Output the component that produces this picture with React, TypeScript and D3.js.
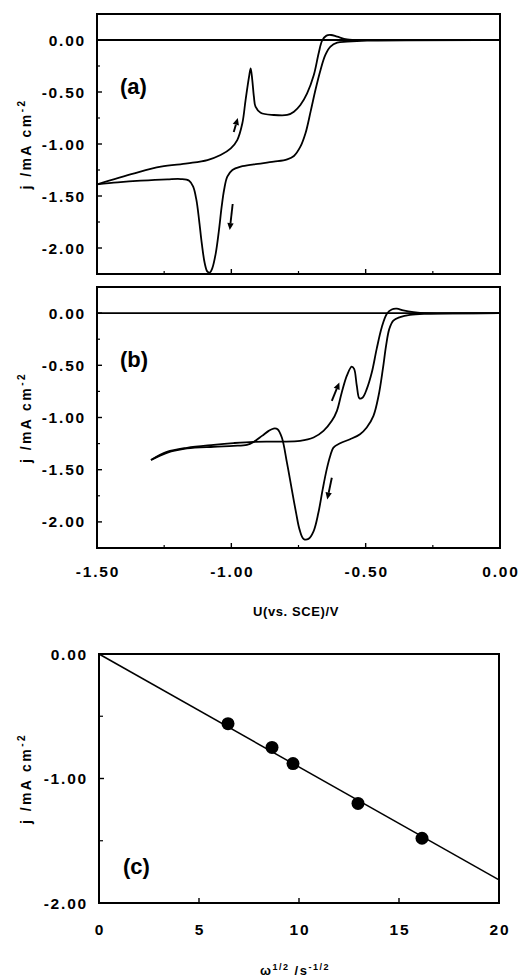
import React from 'react';
import * as d3 from 'd3';

const FONT = '"Liberation Sans", Arial, Helvetica, sans-serif';

// potential ticks (V) and current ticks (mA cm-2)
const cvXTicks = [-1.5, -1.0, -0.5, 0.0];
const cvXMinor = [-1.25, -0.75, -0.25];
const cvYTicks = [0.0, -0.5, -1.0, -1.5, -2.0];
const cvYMinor = [0.25, -0.25, -0.75, -1.25, -1.75, -2.25];

// (a) negative-going scan, from the right end to -1.50 V   [U, j]
const aCathodic: [number, number][] = [
  [0.0, 0], [-0.495, -0.006], [-0.569, -0.016], [-0.606, -0.026], [-0.631, -0.064],
  [-0.65, -0.144], [-0.668, -0.288], [-0.687, -0.481], [-0.705, -0.689], [-0.724, -0.897],
  [-0.743, -1.026], [-0.767, -1.115], [-0.792, -1.147], [-0.842, -1.17], [-0.916, -1.196],
  [-0.965, -1.218], [-0.996, -1.25], [-1.015, -1.314], [-1.027, -1.442], [-1.036, -1.603],
  [-1.046, -1.827], [-1.058, -2.051], [-1.071, -2.196], [-1.08, -2.237], [-1.089, -2.228],
  [-1.099, -2.147], [-1.11, -1.955], [-1.12, -1.731], [-1.13, -1.538], [-1.142, -1.41],
  [-1.157, -1.353], [-1.188, -1.337], [-1.238, -1.34], [-1.337, -1.353], [-1.423, -1.369],
  [-1.5, -1.388],
];

// (a) positive-going scan, from -1.50 V back to the right
const aAnodic: [number, number][] = [
  [-1.5, -1.388], [-1.361, -1.282], [-1.262, -1.218], [-1.163, -1.186], [-1.089, -1.154],
  [-1.04, -1.106], [-1.002, -1.042], [-0.978, -0.962], [-0.959, -0.801], [-0.947, -0.577],
  [-0.934, -0.353], [-0.928, -0.272], [-0.922, -0.385], [-0.916, -0.545], [-0.91, -0.641],
  [-0.891, -0.699], [-0.842, -0.721], [-0.792, -0.721], [-0.767, -0.689], [-0.743, -0.625],
  [-0.718, -0.513], [-0.693, -0.337], [-0.675, -0.128], [-0.662, -0.006], [-0.646, 0.042],
  [-0.629, 0.048], [-0.606, 0.032], [-0.569, 0.006], [-0.495, 0], [0.0, 0],
];

// (b) negative-going scan, from the right end to -1.30 V
const bCathodic: [number, number][] = [
  [0.0, 0], [-0.273, -0.006], [-0.335, -0.016], [-0.372, -0.038], [-0.397, -0.071],
  [-0.412, -0.151], [-0.424, -0.311], [-0.436, -0.535], [-0.452, -0.792], [-0.471, -0.984],
  [-0.496, -1.096], [-0.521, -1.16], [-0.558, -1.208], [-0.595, -1.247], [-0.62, -1.288],
  [-0.632, -1.369], [-0.645, -1.497], [-0.66, -1.689], [-0.676, -1.913], [-0.694, -2.09],
  [-0.713, -2.163], [-0.731, -2.163], [-0.746, -2.074], [-0.759, -1.913], [-0.775, -1.689],
  [-0.793, -1.433], [-0.812, -1.192], [-0.828, -1.112], [-0.843, -1.106], [-0.861, -1.128],
  [-0.886, -1.176], [-0.917, -1.234], [-0.942, -1.262], [-0.992, -1.272], [-1.066, -1.28],
  [-1.165, -1.296], [-1.24, -1.338], [-1.299, -1.407],
];

// (b) positive-going scan, from -1.30 V back to the right
const bAnodic: [number, number][] = [
  [-1.299, -1.407], [-1.24, -1.33], [-1.165, -1.29], [-1.066, -1.262], [-0.992, -1.245],
  [-0.917, -1.233], [-0.818, -1.231], [-0.744, -1.224], [-0.694, -1.192], [-0.657, -1.128],
  [-0.626, -1.032], [-0.607, -0.936], [-0.589, -0.76], [-0.57, -0.599], [-0.552, -0.513],
  [-0.543, -0.535], [-0.533, -0.696], [-0.523, -0.817], [-0.511, -0.808], [-0.496, -0.728],
  [-0.477, -0.567], [-0.459, -0.343], [-0.44, -0.135], [-0.421, -0.006], [-0.403, 0.035],
  [-0.384, 0.042], [-0.36, 0.026], [-0.322, 0.01], [-0.273, 0], [0.0, 0],
];

// scan direction arrows [from, to]
const aArrows: [number, number][][] = [
  [[-0.991, -0.885], [-0.976, -0.75]],
  [[-0.995, -1.577], [-1.006, -1.827]],
];
const bArrows: [number, number][][] = [
  [[-0.626, -0.84], [-0.598, -0.664]],
  [[-0.626, -1.577], [-0.643, -1.786]],
];

// (c) limiting current vs. square root of rotation rate
const omegaRoot = [6.45, 8.65, 9.7, 12.95, 16.15];
const limitingJ = [-0.56, -0.75, -0.88, -1.2, -1.48];
const fitX = [0, 20];
const fitJ = [0, -1.815];
const cXTicks = [0, 5, 10, 15, 20];
const cYTicks = [0.0, -1.0, -2.0];
const cYMinor = [-0.5, -1.5];

const xCV = d3.scaleLinear().domain([-1.5, 0]).range([97, 500]);
const yA = d3.scaleLinear().domain([0.25, -2.25]).range([14, 274]);
const yB = d3.scaleLinear().domain([0.25, -2.25]).range([287, 548]);
const xC = d3.scaleLinear().domain([0, 20]).range([99, 499]);
const yC = d3.scaleLinear().domain([0, -2]).range([654, 903]);

const tickStyle = { fontFamily: FONT, fontWeight: 700, fontSize: 15.5, letterSpacing: 1.8 } as const;

function YLabel({ cy }: { cy: number }) {
  return (
    <text
      transform={`translate(31,${cy}) rotate(-90)`}
      textAnchor="middle"
      fontFamily={FONT}
      fontWeight={700}
      fontSize={14}
      letterSpacing={2.4}
    >
      j /mA cm<tspan dy={-6} fontSize={10}>-2</tspan>
    </text>
  );
}

function Arrow({ pts, x, y }: { pts: [number, number][]; x: any; y: any }) {
  const [a, b] = pts;
  const x1 = x(a[0]), y1 = y(a[1]), x2 = x(b[0]), y2 = y(b[1]);
  const ang = Math.atan2(y2 - y1, x2 - x1);
  const L = 7, W = 3.2;
  const bx = x2 - L * Math.cos(ang), by = y2 - L * Math.sin(ang);
  const nx = -Math.sin(ang) * W, ny = Math.cos(ang) * W;
  return (
    <g>
      <line x1={x1} y1={y1} x2={bx} y2={by} stroke="#000" strokeWidth={1.9} />
      <path d={`M${x2},${y2}L${bx + nx},${by + ny}L${bx - nx},${by - ny}Z`} fill="#000" />
    </g>
  );
}

function CVPanel({ y, cathodic, anodic, arrows, label, showX }: any) {
  const [top, bottom] = y.range();
  const [left, right] = xCV.range();
  const line = d3.line<[number, number]>()
    .x(d => xCV(d[0]))
    .y(d => y(d[1]))
    .curve(d3.curveCatmullRom.alpha(0.5));
  const clipId = `clip-${label}`;
  return (
    <g>
      <defs>
        <clipPath id={clipId}>
          <rect x={left} y={top} width={right - left} height={bottom - top} />
        </clipPath>
      </defs>
      <g clipPath={`url(#${clipId})`} fill="none" stroke="#000" strokeWidth={1.8}>
        <line x1={left} x2={right} y1={y(0)} y2={y(0)} />
        <path d={line(cathodic) || ''} />
        <path d={line(anodic) || ''} />
      </g>
      {arrows.map((p: any, i: number) => <Arrow key={i} pts={p} x={xCV} y={y} />)}
      <rect x={left} y={top} width={right - left} height={bottom - top} fill="none" stroke="#000" strokeWidth={2} />
      {cvYTicks.map(t => (
        <g key={t}>
          <line x1={left} x2={left + 5} y1={y(t)} y2={y(t)} stroke="#000" strokeWidth={1.4} />
          <text x={86} y={y(t)} dy="0.36em" textAnchor="end" {...tickStyle}>{t.toFixed(2)}</text>
        </g>
      ))}
      {cvYMinor.map(t => (
        <line key={t} x1={left} x2={left + 3} y1={y(t)} y2={y(t)} stroke="#000" strokeWidth={1.2} />
      ))}
      {cvXTicks.map(t => (
        <g key={t}>
          <line x1={xCV(t)} x2={xCV(t)} y1={bottom} y2={bottom - 5} stroke="#000" strokeWidth={1.4} />
          {showX && (
            <text x={xCV(t) + 1} y={bottom + 29} textAnchor="middle" {...tickStyle}>{t.toFixed(2)}</text>
          )}
        </g>
      ))}
      {cvXMinor.map(t => (
        <line key={t} x1={xCV(t)} x2={xCV(t)} y1={bottom} y2={bottom - 3} stroke="#000" strokeWidth={1.2} />
      ))}
      <text x={120} y={top + 80} fontFamily={FONT} fontWeight={700} fontSize={22}>({label})</text>
      <YLabel cy={(top + bottom) / 2} />
    </g>
  );
}

function RotationPanel() {
  const [top, bottom] = yC.range();
  const [left, right] = xC.range();
  const fit = d3.line<number>().x(d => xC(d)).y((d, i) => yC(fitJ[i]));
  return (
    <g>
      <path d={fit(fitX) || ''} fill="none" stroke="#000" strokeWidth={1.5} />
      {omegaRoot.map((w, i) => (
        <circle key={i} cx={xC(w)} cy={yC(limitingJ[i])} r={6.5} fill="#000" />
      ))}
      <rect x={left} y={top} width={right - left} height={bottom - top} fill="none" stroke="#000" strokeWidth={2} />
      {cYTicks.map(t => (
        <g key={t}>
          <line x1={left} x2={left + 5} y1={yC(t)} y2={yC(t)} stroke="#000" strokeWidth={1.4} />
          <text x={88} y={yC(t)} dy="0.36em" textAnchor="end" {...tickStyle}>{t.toFixed(2)}</text>
        </g>
      ))}
      {cYMinor.map(t => (
        <line key={t} x1={left} x2={left + 4} y1={yC(t)} y2={yC(t)} stroke="#000" strokeWidth={1.2} />
      ))}
      {cXTicks.map(t => (
        <g key={t}>
          <line x1={xC(t)} x2={xC(t)} y1={bottom} y2={bottom - 5} stroke="#000" strokeWidth={1.4} />
          <text x={xC(t) + 1} y={bottom + 32} textAnchor="middle" {...tickStyle}>{t}</text>
        </g>
      ))}
      <text x={123} y={874} fontFamily={FONT} fontWeight={700} fontSize={22}>(c)</text>
      <YLabel cy={(top + bottom) / 2} />
      <text x={295} y={975} textAnchor="middle" fontFamily={FONT} fontWeight={700} fontSize={13} letterSpacing={1.5}>
        ω<tspan dy={-5} fontSize={9}>1/2</tspan>
        <tspan dy={5}> /s</tspan>
        <tspan dy={-5} fontSize={9}>-1/2</tspan>
      </text>
    </g>
  );
}

export default function App() {
  return (
    <svg width={519} height={980} style={{ position: 'absolute', left: 0, top: 0, background: '#fff' }}>
      <rect width={519} height={980} fill="#fff" />
      <CVPanel y={yA} cathodic={aCathodic} anodic={aAnodic} arrows={aArrows} label="a" showX={false} />
      <CVPanel y={yB} cathodic={bCathodic} anodic={bAnodic} arrows={bArrows} label="b" showX={true} />
      <text x={296} y={616} textAnchor="middle" fontFamily={FONT} fontWeight={700} fontSize={13} letterSpacing={0.6}>
        U(vs. SCE)/V
      </text>
      <RotationPanel />
    </svg>
  );
}
